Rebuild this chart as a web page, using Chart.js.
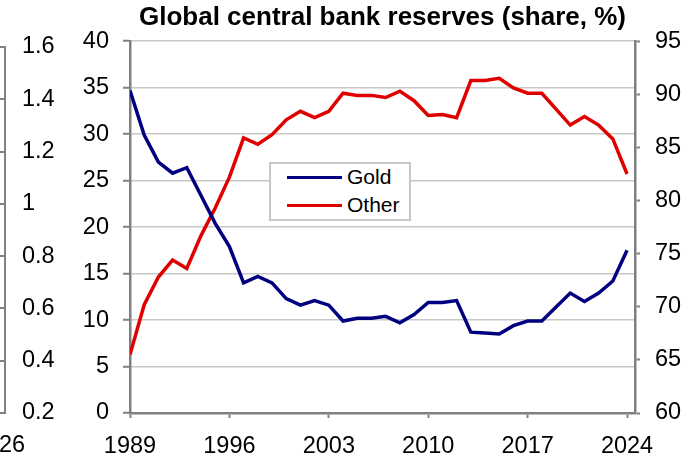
<!DOCTYPE html>
<html>
<head>
<meta charset="utf-8">
<script src="https://cdn.jsdelivr.net/npm/chart.js@4/dist/chart.umd.min.js"></script>
<style>
  html, body { margin: 0; padding: 0; background: #fff; overflow: hidden; }
  body { width: 699px; height: 458px; position: relative; font-family: "Liberation Sans", Arial, sans-serif; }
  #mainWrap { position: absolute; left: 0; top: 0; width: 699px; height: 458px; }
  #sideWrap { position: absolute; left: -315px; top: 0; width: 380px; height: 458px; }
  #legend {
    position: absolute; left: 269px; top: 162px; width: 142px; height: 59px;
    box-sizing: border-box; border: 2px solid #c8c8c8; background: #fff;
    font-size: 21px; color: #000;
  }
  #legend .row { position: absolute; left: 16px; height: 24px; line-height: 24px; white-space: nowrap; }
  #legend .swatch { display: inline-block; width: 55px; height: 3.5px; vertical-align: middle; margin-right: 5px; position: relative; top: -1px; }
</style>
</head>
<body>
<div id="sideWrap"><canvas id="side"></canvas></div>
<div id="mainWrap"><canvas id="chart"></canvas></div>
<div id="legend"></div>
<script>
// Reserves share, %
const years = [1989, 1990, 1991, 1992, 1993, 1994, 1995, 1996, 1997, 1998,
               1999, 2000, 2001, 2002, 2003, 2004, 2005, 2006, 2007, 2008,
               2009, 2010, 2011, 2012, 2013, 2014, 2015, 2016, 2017, 2018,
               2019, 2020, 2021, 2022, 2023, 2024];
const gold = [34.7, 29.9, 27.0, 25.8, 26.4, 23.4, 20.4, 17.9, 14.0, 14.7,
              14.0, 12.3, 11.6, 12.1, 11.6, 9.9, 10.2, 10.2, 10.4, 9.7,
              10.6, 11.9, 11.9, 12.1, 8.7, 8.6, 8.5, 9.4, 9.9, 9.9,
              11.4, 12.9, 12.0, 12.9, 14.2, 17.5];
const other = [65.5, 70.2, 72.8, 74.4, 73.6, 76.7, 79.3, 82.2, 85.9, 85.3,
               86.2, 87.6, 88.4, 87.8, 88.4, 90.1, 89.9, 89.9, 89.7, 90.3,
               89.4, 88.0, 88.1, 87.8, 91.3, 91.3, 91.5, 90.6, 90.1, 90.1,
               88.6, 87.1, 87.9, 87.1, 85.8, 82.5];
const xTicks = [1989, 1996, 2003, 2010, 2017, 2024];

// cut-off edge of the neighbouring chart on the left
const sideYears = [2026];

const AXIS = '#808080';
const GRID = '#c8c8c8';
Chart.defaults.font.family = '"Liberation Sans", Arial, sans-serif';
Chart.defaults.font.size = 23.5;
Chart.defaults.color = '#000';

const htmlLegend = {
  id: 'htmlLegend',
  afterUpdate(chart) {
    const box = document.getElementById('legend');
    box.innerHTML = '';
    const items = chart.options.plugins.legend.labels.generateLabels(chart);
    items.forEach((item, i) => {
      const row = document.createElement('div');
      row.className = 'row';
      row.style.top = (1 + i * 28) + 'px';
      const sw = document.createElement('span');
      sw.className = 'swatch';
      sw.style.background = item.strokeStyle;
      row.appendChild(sw);
      row.appendChild(document.createTextNode(item.text));
      box.appendChild(row);
    });
  }
};

const toPoints = vals => vals.map((v, i) => ({ x: years[i], y: v }));

new Chart(document.getElementById('chart'), {
  type: 'line',
  data: {
    datasets: [
      { label: 'Gold', data: toPoints(gold), yAxisID: 'y', borderColor: '#000080', borderWidth: 3.5, pointRadius: 0, tension: 0 },
      { label: 'Other', data: toPoints(other), yAxisID: 'y2', borderColor: '#e00000', borderWidth: 3.5, pointRadius: 0, tension: 0 }
    ]
  },
  options: {
    responsive: true,
    maintainAspectRatio: false,
    animation: false,
    layout: { padding: 0 },
    plugins: {
      legend: { display: false },
      tooltip: { enabled: false },
      title: {
        display: true,
        fullSize: false,
        text: 'Global central bank reserves (share, %)',
        color: '#000',
        font: { size: 26, weight: 'bold' },
        padding: { top: 2, bottom: 8 }
      }
    },
    scales: {
      x: {
        type: 'linear',
        min: 1989,
        max: 2024.56,
        afterBuildTicks: s => { s.ticks = xTicks.map(v => ({ value: v })); },
        afterFit: s => { s.height = 45; },
        ticks: { callback: v => String(v), padding: 14, maxRotation: 0, autoSkip: false },
        grid: { drawOnChartArea: false, drawTicks: true, tickLength: 5, tickColor: AXIS, tickWidth: 2 },
        border: { color: AXIS, width: 2.5 }
      },
      y: {
        position: 'left',
        min: 0,
        max: 40,
        ticks: { stepSize: 5, padding: 14 },
        afterFit: s => { s.width = 130; },
        grid: { color: GRID, lineWidth: 1.5, tickLength: 7, tickColor: AXIS, tickWidth: 2 },
        border: { color: AXIS, width: 2.5 }
      },
      y2: {
        position: 'right',
        min: 60,
        max: 95,
        ticks: { stepSize: 5, padding: 15 },
        afterFit: s => { s.width = 64; },
        grid: { drawOnChartArea: false, tickLength: 5, tickColor: AXIS, tickWidth: 2 },
        border: { color: AXIS, width: 2.5 }
      }
    }
  },
  plugins: [htmlLegend]
});

new Chart(document.getElementById('side'), {
  type: 'line',
  data: { datasets: [] },
  options: {
    responsive: true,
    maintainAspectRatio: false,
    animation: false,
    layout: { padding: { top: 47 } },
    plugins: { legend: { display: false }, tooltip: { enabled: false } },
    scales: {
      x: {
        type: 'linear',
        min: 2020,
        max: 2026,
        afterBuildTicks: s => { s.ticks = sideYears.map(v => ({ value: v })); },
        afterFit: s => { s.height = 45; },
        ticks: { callback: v => String(v), padding: 10, labelOffset: -6, maxRotation: 0, autoSkip: false },
        grid: { display: false },
        border: { display: false }
      },
      y: {
        position: 'right',
        min: 0.2,
        max: 1.6,
        ticks: { stepSize: 0.2, padding: 17, callback: v => String(+v.toFixed(1)) },
        afterFit: s => { s.width = 60; },
        grid: { color: AXIS, lineWidth: 2, drawTicks: false },
        border: { color: AXIS, width: 2 }
      }
    }
  }
});
</script>
</body>
</html>
